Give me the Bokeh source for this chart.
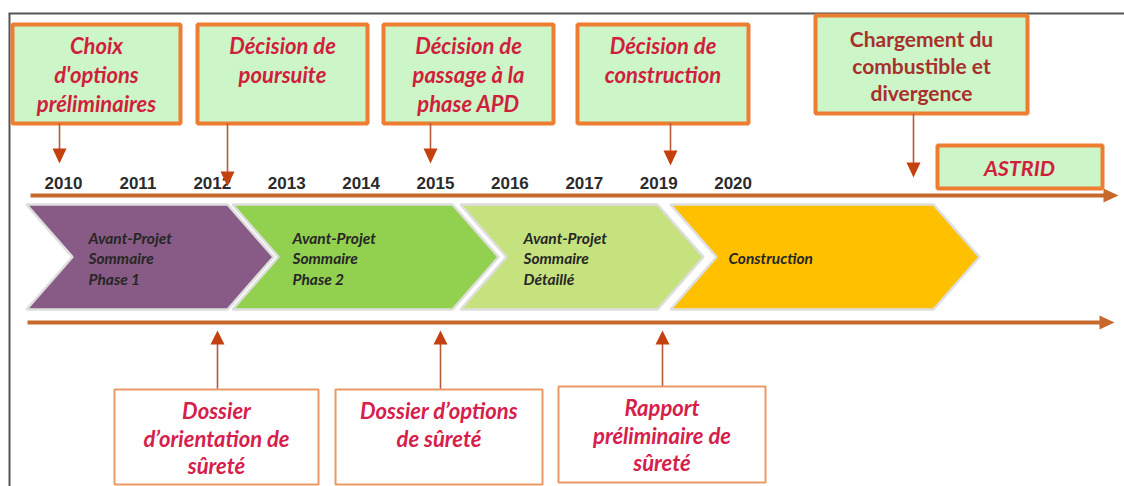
from bokeh.plotting import figure
from bokeh.models import Range1d
from bokeh.core.properties import value
from bokeh.embed import file_html
from bokeh.resources import INLINE

# ---------------- data ----------------
years = ["2010", "2011", "2012", "2013", "2014", "2015", "2016", "2017", "2019", "2020"]

decisions = ["Choix\nd'options\npréliminaires",
             "Décision de\npoursuite",
             "Décision de\npassage à la\nphase APD",
             "Décision de\nconstruction"]
fuel_label = "Chargement du\ncombustible et\ndivergence"
project_label = "ASTRID"

phases = ["Avant-Projet\nSommaire\nPhase 1",
          "Avant-Projet\nSommaire\nPhase 2",
          "Avant-Projet\nSommaire\nDétaillé",
          "Construction"]
phase_colors = ["#875b85", "#92d050", "#c6e27e", "#ffc000"]

safety_docs = ["Dossier\nd\u2019orientation de\nsûreté",
               "Dossier d\u2019options\nde sûreté",
               "Rapport\npréliminaire de\nsûreté"]

# ---------------- layout ----------------
W, H = 1124, 486
FONT = value("Lato")
p = figure(width=W, height=H, x_range=Range1d(0, W), y_range=Range1d(H, 0),
           output_backend="svg", toolbar_location=None, min_border=0,
           x_axis_type=None, y_axis_type=None)
p.grid.visible = False
p.outline_line_color = None
p.background_fill_color = "white"
p.border_fill_color = "white"

# frame lines (gray)
p.segment(x0=[8, 9], y0=[13, 13], x1=[W, 9], y1=[13, H], line_color="#555555", line_width=2)

LINE_C = "#c8692c"
# timelines
p.segment(x0=[30, 27], y0=[195, 322], x1=[1106, 1102], y1=[195, 322], line_color=LINE_C, line_width=4)
p.patches(xs=[[1103, 1118, 1103], [1099, 1114, 1099]],
          ys=[[188, 195, 202], [315, 322, 329]], fill_color=LINE_C, line_color=None)

# year labels
year_x = [63 + 74.4 * i for i in range(len(years))]
p.text(x=year_x, y=[182] * len(years), text=years, text_font=value("Liberation Sans"),
       text_font_style="bold", text_font_size="17px", text_color="#2b2b2b",
       text_align="center", text_baseline="middle")

# chevrons
ch_left = [26, 232, 460, 670]
ch_right = [227, 452, 657, 933]
depth = 46
top, bot, mid = 204, 309, 256.5
cxs, cys = [], []
for l, r in zip(ch_left, ch_right):
    cxs.append([l, r, r + depth, r, l, l + depth])
    cys.append([top, top, mid, bot, bot, mid])
p.patches(xs=cxs, ys=cys, fill_color=phase_colors, line_color="#dedede", line_width=2.5)
text_x = [88, 292, 523, 728]
for tx, label in zip(text_x, phases):
    lines = label.split("\n")
    n = len(lines)
    ys = [mid + 1 + (i - (n - 1) / 2) * 20.5 for i in range(n)]
    p.text(x=[tx] * n, y=ys, text=lines, text_font=FONT, text_font_style="bold italic",
           text_font_size="15.5px", text_color="#262626", text_align="left", text_baseline="middle")

# top decision boxes
box_l = [12, 197, 383, 577]
box_r = [180, 367, 553, 748]
p.quad(left=box_l + [815, 937], right=box_r + [1027, 1102],
       top=[24, 24, 24, 24, 15, 145], bottom=[123, 123, 123, 123, 113, 188],
       fill_color="#ccf5c8", line_color="#ed7d31", line_width=4)

def put_lines(cx, y0, dy, label, color, style, size):
    lines = label.split("\n")
    p.text(x=[cx] * len(lines), y=[y0 + i * dy for i in range(len(lines))], text=lines,
           text_font=FONT, text_font_style=style, text_font_size=size, text_color=color,
           text_align="center", text_baseline="middle")

for l, r, label in zip(box_l, box_r, decisions):
    put_lines((l + r) / 2, 45, 29, label, "#d01f3c", "bold italic", "22px")
put_lines(921, 38, 27, fuel_label, "#a8302c", "bold", "21px")
put_lines(1019, 167, 0, project_label, "#d01f3c", "bold italic", "21.5px")

# arrows (down from decisions, up to safety docs)
ARW_L = "#b65a3c"
ARW_H = "#c4410f"
down_x = [59, 227, 430, 670, 913]
down_y0 = [123, 123, 123, 123, 113]
down_tip = [163, 186, 163, 165, 177]
up_x = [217, 440, 662]
up_tip = [330, 330, 330]
up_y0 = [389, 389, 386]
p.segment(x0=down_x, y0=down_y0, x1=down_x, y1=[t - 8 for t in down_tip], line_color=ARW_L, line_width=1.6)
p.segment(x0=up_x, y0=up_y0, x1=up_x, y1=[t + 8 for t in up_tip], line_color=ARW_L, line_width=1.6)
hx, hy = [], []
for x, t in zip(down_x, down_tip):
    hx.append([x - 7, x + 7, x]); hy.append([t - 15, t - 15, t])
for x, t in zip(up_x, up_tip):
    hx.append([x - 7, x + 7, x]); hy.append([t + 14, t + 14, t])
p.patches(xs=hx, ys=hy, fill_color=ARW_H, line_color=None)

# safety documents boxes
sb_l = [114, 335, 558]
sb_r = [318, 542, 765]
sb_t = [389, 389, 386]
p.quad(left=sb_l, right=sb_r, top=sb_t, bottom=[484, 484, 482],
       fill_color="white", line_color="#e99a66", line_width=2)
for l, r, t, label in zip(sb_l, sb_r, sb_t, safety_docs):
    put_lines((l + r) / 2, t + 21, 27.5, label, "#d6204c", "bold italic", "22px")

open("out.html", "w").write(file_html(p, INLINE))
